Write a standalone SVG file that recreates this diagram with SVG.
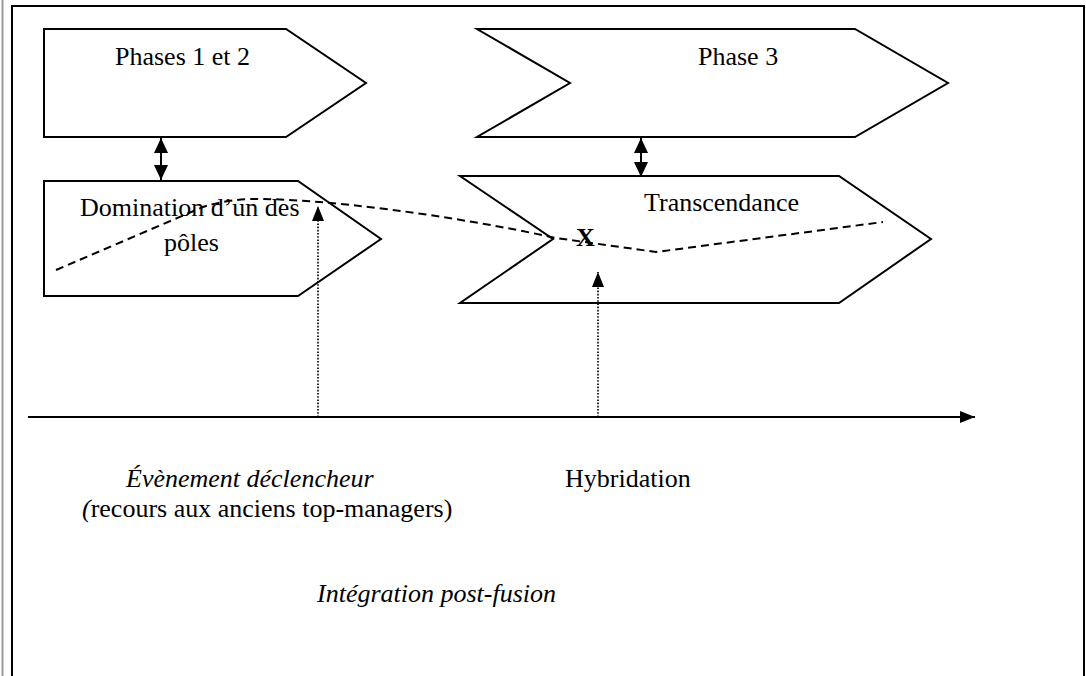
<svg xmlns="http://www.w3.org/2000/svg" width="1086" height="676" viewBox="0 0 1086 676">
<style>
.shape{fill:#fff;stroke:#000;stroke-width:2;stroke-linejoin:miter}
.t{font-family:"Liberation Serif","Times New Roman",serif;font-size:26px;fill:#000}
.i{font-style:italic}
.dash{fill:none;stroke:#000;stroke-width:2;stroke-dasharray:8 5}
.dot{fill:none;stroke:#000;stroke-width:1.6;stroke-dasharray:1.6 1.6}
.solid{fill:none;stroke:#000;stroke-width:2}
</style>
<defs>
<marker id="ah" viewBox="0 0 15 14" refX="15" refY="7" markerWidth="15" markerHeight="14" markerUnits="userSpaceOnUse" orient="auto-start-reverse">
<path d="M0,0 L15,7 L0,14 Z" fill="#000"/>
</marker>
<marker id="ahs" viewBox="0 0 15 12" refX="15" refY="6" markerWidth="15" markerHeight="12" markerUnits="userSpaceOnUse" orient="auto">
<path d="M0,0 L15,6 L0,12 Z" fill="#000"/>
</marker>
</defs>
<rect width="1086" height="676" fill="#fff"/>
<g id="frame">
<line x1="2.5" y1="0" x2="2.5" y2="676" stroke="#999" stroke-width="2"/>
<polyline points="12,676 12,6 1084,6 1084,676" fill="none" stroke="#000" stroke-width="2"/>
</g>
<g id="phase12">
<polygon class="shape" points="44,29 286,29 366,83 286,137 44,137"/>
<text class="t" x="115" y="65">Phases 1 et 2</text>
</g>
<g id="phase3">
<polygon class="shape" points="477,29 855,29 948,83 855,137 477,137 570,83"/>
<text class="t" x="698" y="65">Phase 3</text>
</g>
<g id="domination">
<polygon class="shape" points="44,181 298,181 381,239 298,296 44,296"/>
<text class="t" x="80" y="216">Domination d’un des</text>
<text class="t" x="164" y="251">pôles</text>
</g>
<g id="transcendance">
<polygon class="shape" points="460,176 839,176 931,239 839,303 460,303 553,239"/>
<text class="t" x="644" y="211">Transcendance</text>
</g>
<g id="connectors">
<line class="solid" x1="161" y1="138" x2="161" y2="180" marker-start="url(#ah)" marker-end="url(#ah)"/>
<line class="solid" x1="641" y1="138" x2="641" y2="177" marker-start="url(#ah)" marker-end="url(#ah)"/>
<path class="dash" d="M56,270 L196,210 Q215,201 250,199 C320,198 450,215 556,238 L656,252 L883,222"/>
<line class="dot" x1="318" y1="417" x2="318" y2="206" marker-end="url(#ahs)"/>
<line class="dot" x1="598" y1="417" x2="598" y2="272" marker-end="url(#ahs)"/>
<line x1="28" y1="417" x2="975" y2="417" stroke="#000" stroke-width="2" marker-end="url(#ahs)"/>
</g>
<g id="labels">
<text class="t" x="576" y="246" font-weight="bold" font-size="30">X</text>
<text class="t i" x="126" y="487">Évènement déclencheur</text>
<text class="t" x="82" y="517"><tspan class="i">(</tspan>recours aux anciens top-managers)</text>
<text class="t" x="565" y="487">Hybridation</text>
<text class="t i" x="317" y="602">Intégration post-fusion</text>
</g>
</svg>
